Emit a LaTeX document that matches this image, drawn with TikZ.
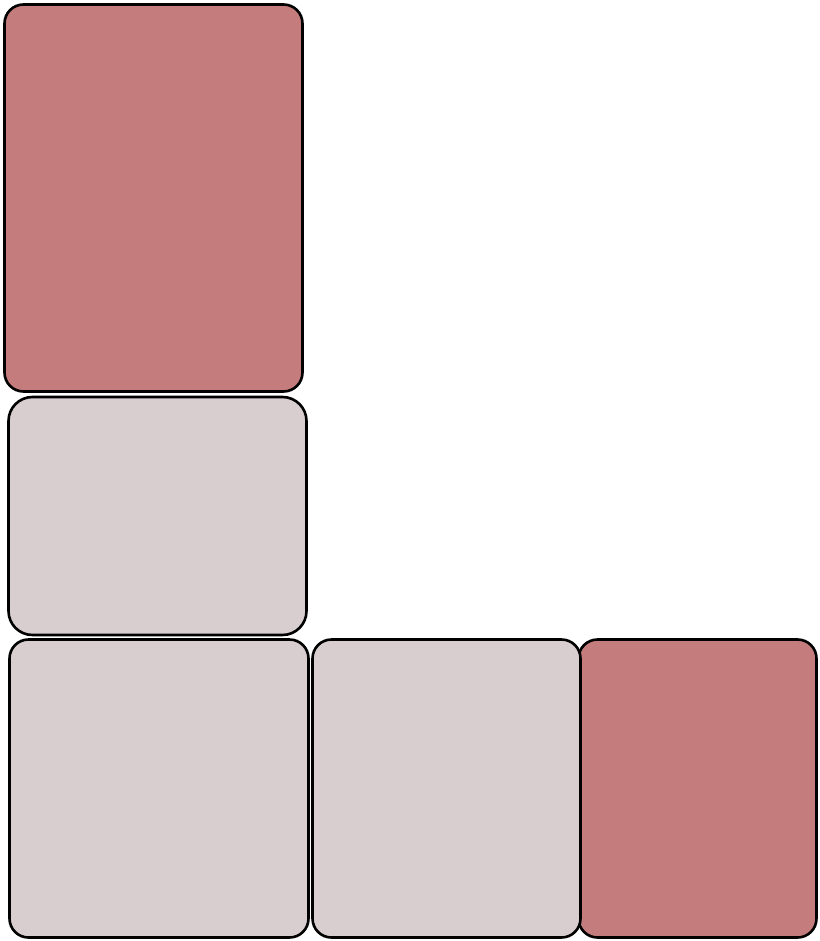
\documentclass[tikz,border=0pt]{standalone}
\definecolor{rosered}{HTML}{C47C7C}
\definecolor{palegrey}{HTML}{D9CECF}
\tikzset{
  tile/.style={draw=black, line width=2.6pt, rounded corners=19pt, inner sep=0pt, outer sep=0pt},
  redtile/.style={tile, fill=rosered},
  greytile/.style={tile, fill=palegrey}
}
\begin{document}
\begin{tikzpicture}[x=1pt,y=-1pt]
\useasboundingbox (0,0) rectangle (819,941);
\node[redtile, minimum width=298pt, minimum height=387pt] (b1) at (153.5,198) {};
\node[greytile, rounded corners=24pt, minimum width=298pt, minimum height=238pt] (b2) at (157.5,516) {};
\node[greytile, minimum width=299pt, minimum height=298pt] (b3) at (159,788.5) {};
\node[redtile, minimum width=238pt, minimum height=298pt] (b5) at (697.5,788.5) {};
\node[greytile, minimum width=268pt, minimum height=298pt] (b4) at (446.5,788.5) {};
\end{tikzpicture}
\end{document}
